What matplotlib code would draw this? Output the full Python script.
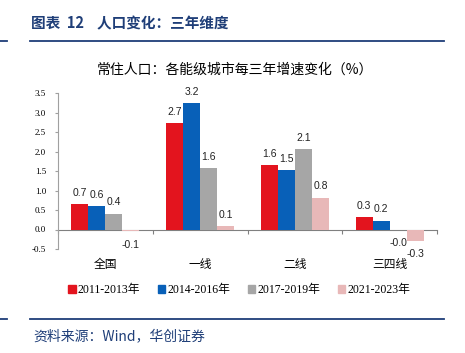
import numpy as np
import matplotlib
matplotlib.use("Agg")
from matplotlib import pyplot as plt
from matplotlib.lines import Line2D
from matplotlib.patches import Patch
import matplotlib.transforms as mtransforms

plt.rcParams['font.family'] = ['Noto Sans CJK SC', 'DejaVu Sans']

categories = ["全国", "一线", "二线", "三四线"]
series_names = ["2011-2013年", "2014-2016年", "2017-2019年", "2021-2023年"]
v_2011_2013 = [0.66, 2.72, 1.65, 0.32]
v_2014_2016 = [0.60, 3.24, 1.52, 0.23]
v_2017_2019 = [0.41, 1.58, 2.07, -0.01]
v_2021_2023 = [-0.05, 0.08, 0.82, -0.29]
yticks = [-0.5, 0.0, 0.5, 1.0, 1.5, 2.0, 2.5, 3.0, 3.5]
colors = ["#E3141E", "#0860B8", "#A6A6A6", "#E8B8B8"]

series = [v_2011_2013, v_2014_2016, v_2017_2019, v_2021_2023]

fig = plt.figure(figsize=(4.65, 3.53), dpi=100)
W, H = 465, 353
ax = fig.add_axes([58 / W, (H - 249) / H, 379 / W, 156 / H])

x = np.arange(len(categories))
width = 0.18
for i, (vals, col) in enumerate(zip(series, colors)):
    pos = x + (i - 1.5) * width
    bars = ax.bar(pos, vals, width, color=col, label=series_names[i], zorder=3)
    for b, v in zip(bars, vals):
        cx = b.get_x() + b.get_width() / 2
        off = 8 if v >= 0 else -9.5
        ax.annotate("%.1f" % v, (cx, v), xytext=(0, off), textcoords="offset points",
                    ha="center", va="center", fontsize=7.5, family="Liberation Sans",
                    color="#222222")

ax.set_ylim(-0.5, 3.5)
ax.set_xlim(-0.5, len(categories) - 0.5)
ax.set_yticks(yticks)
ax.set_yticklabels(["%.1f" % t for t in yticks], family="Liberation Serif", fontsize=6.5)
ax.set_xticks(np.arange(len(categories) + 1) - 0.5)
ax.set_xticklabels([])
for s in ["top", "right"]:
    ax.spines[s].set_visible(False)
ax.spines["left"].set_color("#A0A0A0")
ax.spines["left"].set_linewidth(0.8)
ax.spines["bottom"].set_position(("data", 0))
ax.spines["bottom"].set_color("#808080")
ax.spines["bottom"].set_linewidth(0.8)
ax.spines["bottom"].set_zorder(2)
ax.tick_params(axis="y", length=2.5, color="#A0A0A0", pad=6)
ax.tick_params(axis="x", length=3, color="#808080", direction="out")

trans = mtransforms.blended_transform_factory(ax.transData, ax.transAxes)
for i, c in enumerate(categories):
    ax.text(i, -0.1, c, transform=trans, ha="center", va="center", fontsize=8.5)

fig.text(235 / W, 1 - 70 / H, "常住人口：各能级城市每三年增速变化（%）",
         ha="center", va="center", fontsize=10)

fig.text(31 / W, 1 - 23 / H, "图表  12    人口变化：三年维度", ha="left", va="center",
         fontsize=10.5, fontweight="bold", color="#1F3E78")
fig.add_artist(Line2D([30 / W, 444 / W], [1 - 41 / H] * 2, color="#1F3E78", lw=1.3))
fig.add_artist(Line2D([0, 7 / W], [1 - 41 / H] * 2, color="#1F3E78", lw=1.3))
fig.add_artist(Line2D([30 / W, 444 / W], [1 - 319 / H] * 2, color="#1F3E78", lw=1.3))
fig.add_artist(Line2D([0, 7 / W], [1 - 319 / H] * 2, color="#1F3E78", lw=1.3))
fig.text(33 / W, 1 - 336 / H, "资料来源：Wind，华创证券", ha="left", va="center",
         fontsize=10, style="italic", color="#1F3E78")

handles = [Patch(color=c) for c in colors]
leg = fig.legend(handles, series_names, loc="center", bbox_to_anchor=(0.515, 1 - 290 / H),
                 ncol=4, frameon=False, handlelength=0.6, handleheight=0.6,
                 handletextpad=0.2, columnspacing=1.5,
                 prop={"family": ["Liberation Serif", "Noto Sans CJK SC"], "size": 8.5})

fig.savefig("out.png", dpi=100)
